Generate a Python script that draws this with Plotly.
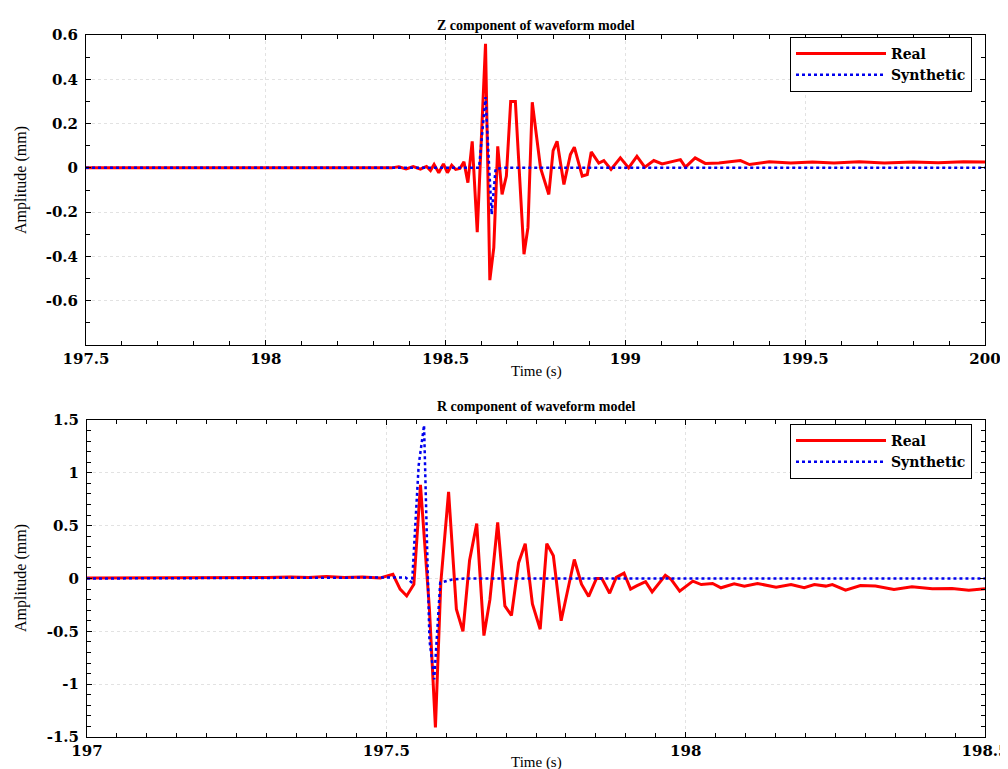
import plotly.graph_objects as go

# ---------------- data ----------------
z_time_real = [197.5, 198.35, 198.37, 198.39, 198.41, 198.43, 198.437, 198.447, 198.458, 198.468, 198.481,
               198.494, 198.505, 198.517, 198.528, 198.540, 198.551, 198.562, 198.574, 198.588,
               198.611, 198.623, 198.634, 198.645, 198.657, 198.669, 198.681, 198.694, 198.718,
               198.729, 198.741, 198.764, 198.787, 198.799, 198.810, 198.829, 198.847, 198.858,
               198.880, 198.894, 198.905, 198.926, 198.940, 198.960, 198.986, 199.009, 199.032,
               199.054, 199.079, 199.102, 199.153, 199.167, 199.194, 199.222, 199.26, 199.32,
               199.345, 199.40, 199.46, 199.52, 199.58, 199.65, 199.72, 199.80, 199.87, 199.94, 200.0]
z_amp_real = [0.0, 0.0, 0.005, -0.005, 0.006, -0.006, 0.0, 0.006, -0.012, 0.015, -0.022,
              0.018, -0.022, 0.012, -0.007, -0.003, 0.027, -0.067, 0.12, -0.29,
              0.56, -0.507, -0.36, 0.097, -0.12, -0.037, 0.30, 0.30, -0.39,
              -0.27, 0.296, 0.0, -0.12, 0.078, 0.12, -0.075, 0.06, 0.093,
              -0.037, -0.03, 0.072, 0.022, 0.033, -0.007, 0.045, 0.0, 0.052,
              0.003, 0.033, 0.018, 0.037, 0.003, 0.045, 0.02, 0.022, 0.033,
              0.015, 0.028, 0.022, 0.027, 0.022, 0.028, 0.022, 0.027, 0.023, 0.028, 0.027]

z_time_syn = [197.5, 198.593, 198.611, 198.628, 198.639, 198.66, 200.0]
z_amp_syn = [0.0, 0.0, 0.32, -0.21, -0.005, 0.0, 0.0]

r_time_real = [197.0, 197.10, 197.20, 197.30, 197.34, 197.37, 197.40, 197.43, 197.46, 197.49,
               197.511, 197.523, 197.534, 197.546, 197.557, 197.572, 197.582, 197.591, 197.604,
               197.617, 197.628, 197.639, 197.651, 197.663, 197.673, 197.686, 197.698, 197.709,
               197.721, 197.732, 197.744, 197.757, 197.768, 197.779, 197.792, 197.814, 197.826,
               197.838, 197.851, 197.860, 197.873, 197.884, 197.897, 197.908, 197.918, 197.933,
               197.944, 197.966, 197.976, 197.990, 198.012, 198.026, 198.045, 198.059, 198.081,
               198.098, 198.120, 198.151, 198.176, 198.198, 198.215, 198.234, 198.245, 198.267,
               198.292, 198.317, 198.348, 198.378, 198.412, 198.445, 198.473, 198.5]
r_amp_real = [0.005, 0.005, 0.008, 0.01, 0.015, 0.01, 0.018, 0.01, 0.015, 0.005,
              0.04, -0.10, -0.165, -0.054, 0.886, -0.29, -1.41, -0.04, 0.82,
              -0.29, -0.50, 0.17, 0.52, -0.54, -0.20, 0.53, -0.26, -0.35,
              0.15, 0.33, -0.24, -0.48, 0.33, 0.215, -0.40, 0.18, -0.054,
              -0.17, 0.0, 0.0, -0.14, 0.01, 0.05, -0.10, -0.07, -0.03,
              -0.127, 0.03, -0.01, -0.12, -0.025, -0.057, -0.047, -0.088, -0.05,
              -0.072, -0.047, -0.082, -0.057, -0.088, -0.057, -0.072, -0.057, -0.11,
              -0.066, -0.072, -0.104, -0.079, -0.097, -0.094, -0.11, -0.097]

r_time_syn = [197.0, 197.532, 197.543, 197.554, 197.563, 197.572, 197.580, 197.590, 197.61, 197.63, 198.5]
r_amp_syn = [0.0, 0.01, -0.04, 1.07, 1.45, -0.58, -0.955, -0.04, -0.01, 0.0, 0.0]

z_xticks = [197.5, 198, 198.5, 199, 199.5, 200]
z_xlabels = ["197.5", "198", "198.5", "199", "199.5", "200"]
z_yticks = [-0.6, -0.4, -0.2, 0, 0.2, 0.4, 0.6]
z_ylabels = ["-0.6", "-0.4", "-0.2", "0", "0.2", "0.4", "0.6"]
r_xticks = [197, 197.5, 198, 198.5]
r_xlabels = ["197", "197.5", "198", "198.5"]
r_yticks = [-1.5, -1, -0.5, 0, 0.5, 1, 1.5]
r_ylabels = ["-1.5", "-1", "-0.5", "0", "0.5", "1", "1.5"]

titles = ["Z component of waveform model", "R component of waveform model"]
x_title = "Time (s)"
y_title = "Amplitude (mm)"
names = ["Real", "Synthetic"]

# ---------------- figure ----------------
# the page body has an 8px margin, so the figure is made 8px smaller and
# all reference pixel positions are shifted by 8px
OFF = 8
W, H = 1000, 761
RED = "#ff0000"
BLUE = "#0000ee"

fig = go.Figure()
fig.add_trace(go.Scatter(x=z_time_real, y=z_amp_real, mode="lines", name=names[0],
                         line=dict(color=RED, width=3), xaxis="x", yaxis="y", legend="legend"))
fig.add_trace(go.Scatter(x=z_time_syn, y=z_amp_syn, mode="lines", name=names[1],
                         line=dict(color=BLUE, width=2.5, dash="dot"), xaxis="x", yaxis="y", legend="legend"))
fig.add_trace(go.Scatter(x=r_time_real, y=r_amp_real, mode="lines", name=names[0],
                         line=dict(color=RED, width=3), xaxis="x2", yaxis="y2", legend="legend2"))
fig.add_trace(go.Scatter(x=r_time_syn, y=r_amp_syn, mode="lines", name=names[1],
                         line=dict(color=BLUE, width=2.5, dash="dot"), xaxis="x2", yaxis="y2", legend="legend2"))

tickfont = dict(family="DejaVu Serif", size=15, color="black", weight="bold")


def axis(domain, rng, tv, tt, minor_dtick, minor_tick0, anchor, standoff):
    return dict(domain=domain, range=rng, tickmode="array", tickvals=tv, ticktext=tt,
                automargin=False, ticklabelstandoff=standoff, ticklabeloverflow="allow",
                showline=True, linecolor="black", linewidth=1, mirror="ticks",
                ticks="inside", ticklen=5, tickcolor="black", tickwidth=1,
                showgrid=True, gridcolor="#e2e2e2", griddash="dot", gridwidth=1,
                zeroline=False, tickfont=tickfont, anchor=anchor,
                minor=dict(ticks="inside", ticklen=4, tickcolor="black", tickmode="linear",
                           dtick=minor_dtick, tick0=minor_tick0, showgrid=False))


px = lambda v: (v - OFF) / W
py = lambda v: 1 - (v - OFF) / H

legend_font = dict(family="DejaVu Serif", size=14, color="black", weight="bold")

fig.update_layout(
    template="none",
    width=W, height=H, margin=dict(l=0, r=0, t=0, b=0, autoexpand=False),
    paper_bgcolor="white", plot_bgcolor="white",
    xaxis=axis([px(86), px(985)], [197.5, 200], z_xticks, z_xlabels, 0.1, 197.5, "y", 0),
    yaxis=axis([py(345), py(35)], [-0.8, 0.6], z_yticks, z_ylabels, 0.1, 0, "x", 4),
    xaxis2=axis([px(87), px(985)], [197, 198.5], r_xticks, r_xlabels, 0.05, 197, "y2", 0),
    yaxis2=axis([py(737), py(420)], [-1.5, 1.5], r_yticks, r_ylabels, 0.1, 0, "x2", 4),
    legend=dict(x=px(972), y=py(37), xanchor="right", yanchor="top",
                bgcolor="white", bordercolor="black", borderwidth=1,
                font=legend_font, tracegroupgap=0, itemwidth=90),
    legend2=dict(x=px(972), y=py(424), xanchor="right", yanchor="top",
                 bgcolor="white", bordercolor="black", borderwidth=1,
                 font=legend_font, tracegroupgap=0, itemwidth=90),
    showlegend=True,
)

title_font = dict(family="Liberation Serif", size=14, color="black", weight="bold")
xt_font = dict(family="Liberation Serif", size=15, color="black")
yt_font = dict(family="Liberation Serif", size=16, color="black")

ann = [
    dict(text=titles[0], x=px(536), y=py(25), font=title_font),
    dict(text=titles[1], x=px(536), y=py(407), font=title_font),
    dict(text=x_title, x=px(536), y=py(372), font=xt_font),
    dict(text=x_title, x=px(536), y=py(762), font=xt_font),
    dict(text=y_title, x=px(21), y=py(180), font=yt_font, textangle=-90),
    dict(text=y_title, x=px(21), y=py(578), font=yt_font, textangle=-90),
]
for a in ann:
    fig.add_annotation(xref="paper", yref="paper", showarrow=False,
                       xanchor="center", yanchor="middle", **a)

fig.write_html("out.html")
